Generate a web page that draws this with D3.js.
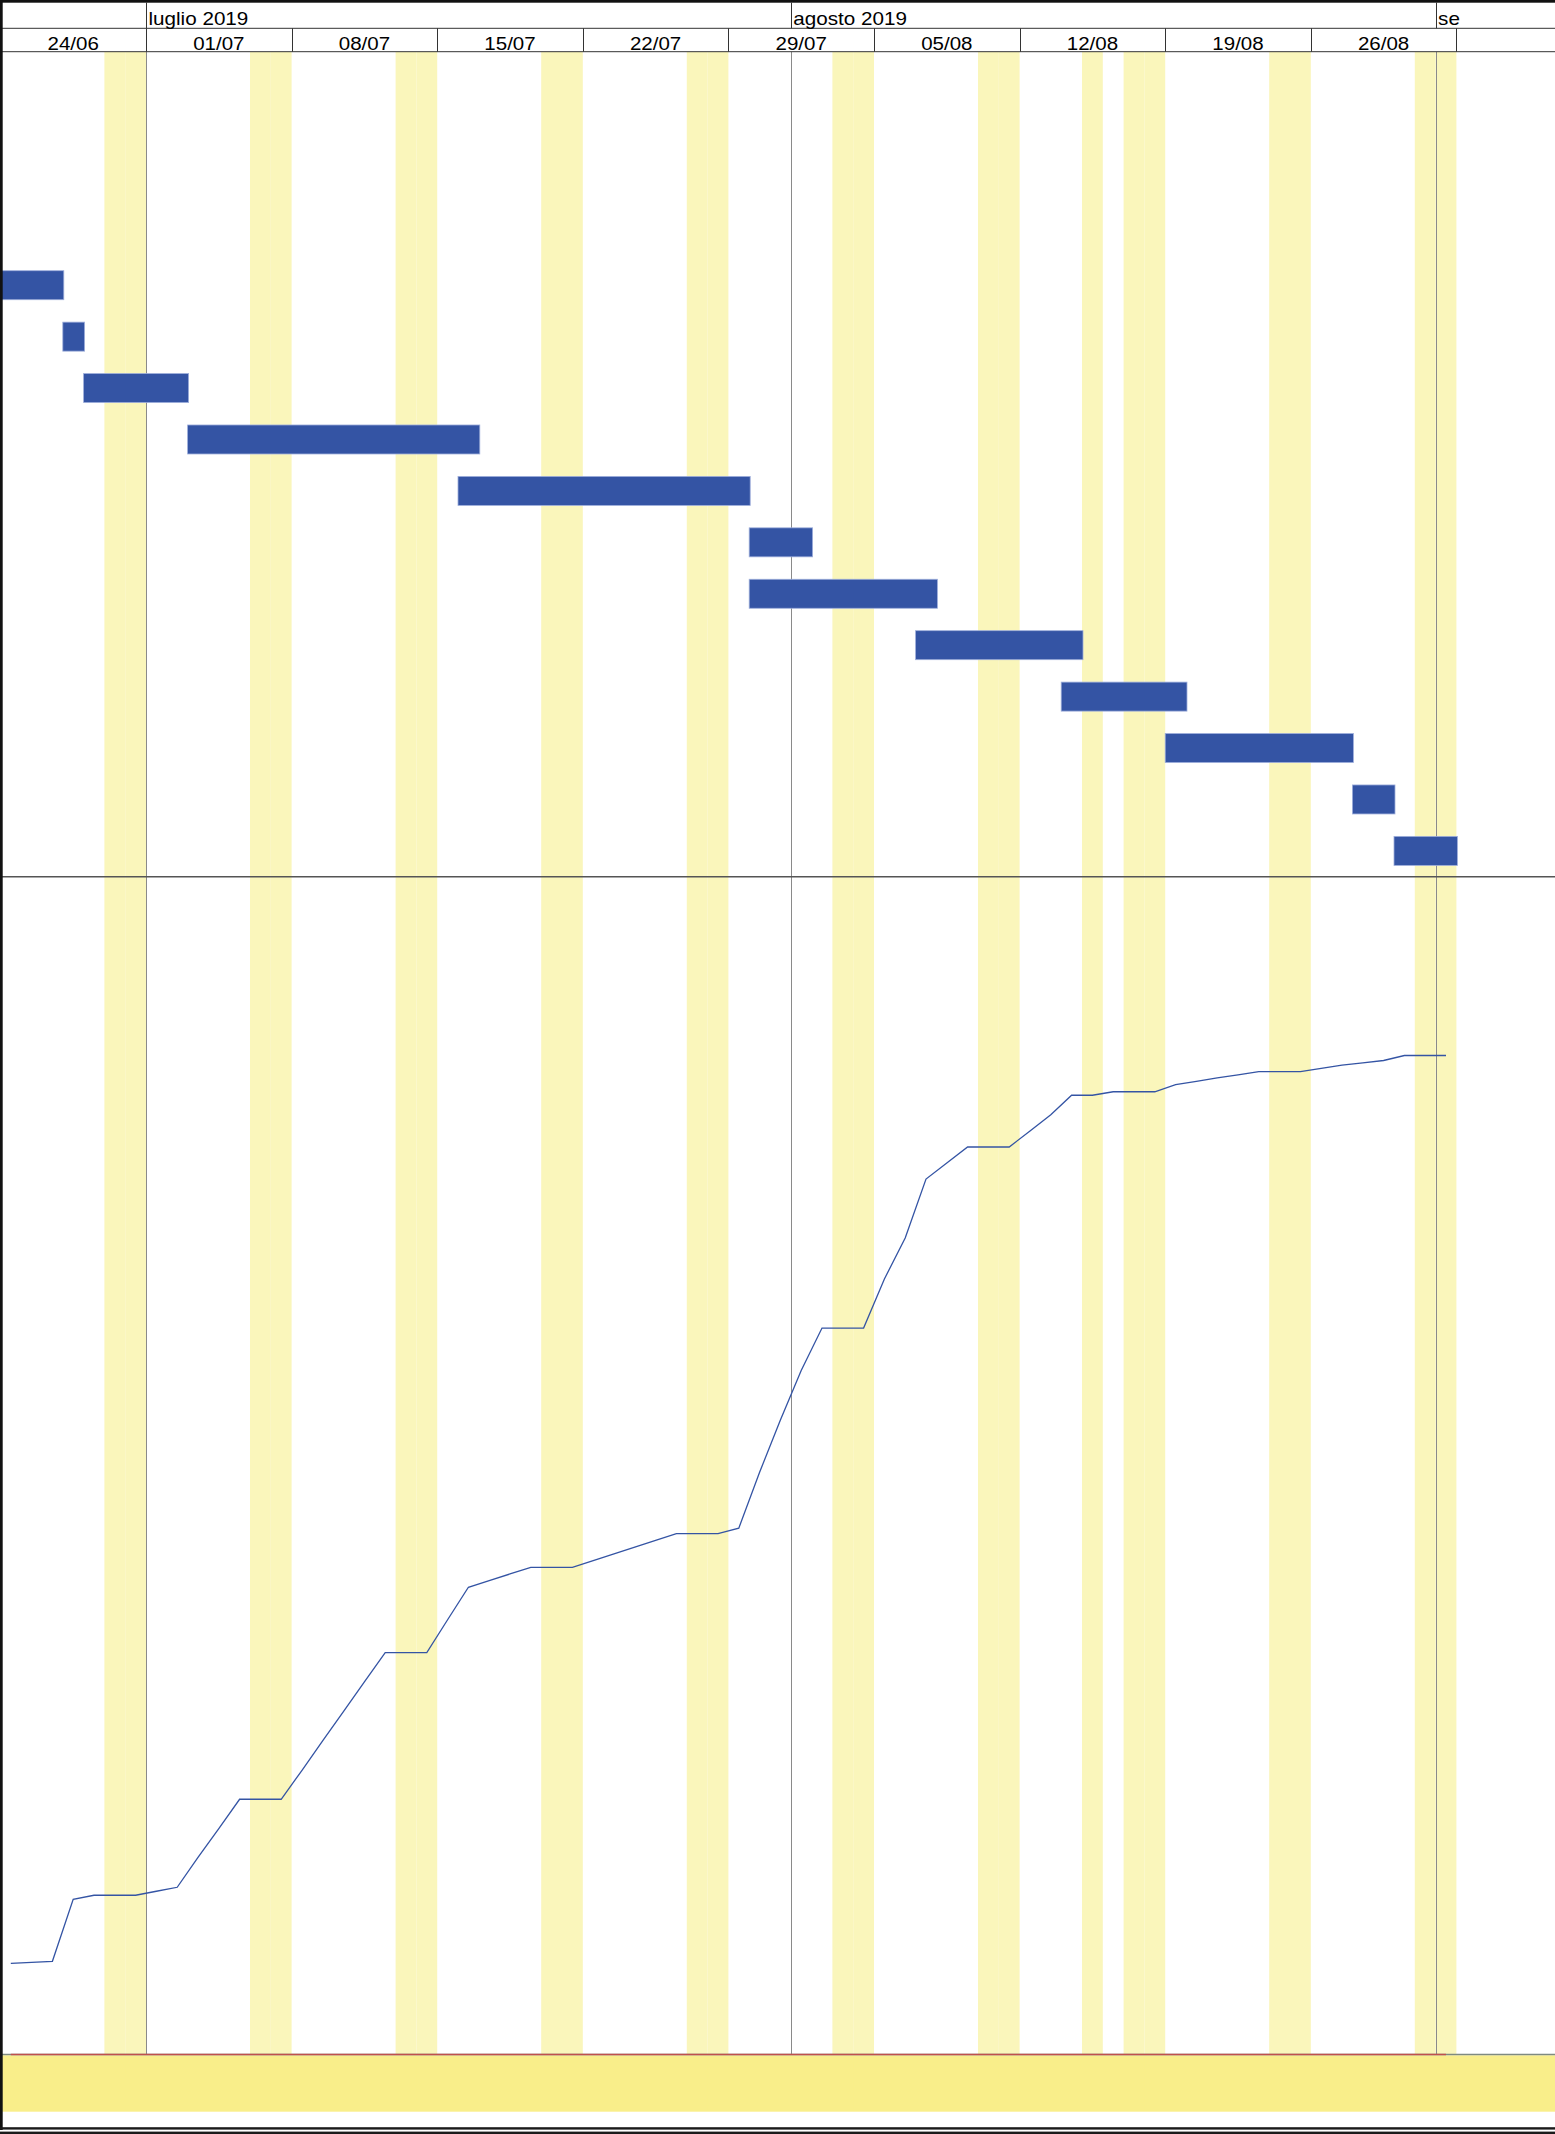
<!DOCTYPE html>
<html><head><meta charset="utf-8">
<script src="https://cdn.jsdelivr.net/npm/d3@7"></script>
<style>html,body{margin:0;padding:0;background:#fff;} svg{display:block;}</style>
</head><body>
<svg id="chart" width="1555" height="2134"></svg>
<script>
// ---------------- data ----------------
const weekStarts = ["2019-06-24","2019-07-01","2019-07-08","2019-07-15","2019-07-22","2019-07-29","2019-08-05","2019-08-12","2019-08-19","2019-08-26","2019-09-02"];
const weekLabels = ["24/06","01/07","08/07","15/07","22/07","29/07","05/08","12/08","19/08","26/08","02/09"];
const monthStarts = ["2019-07-01","2019-08-01","2019-09-01"];
const monthLabels = ["luglio 2019","agosto 2019","se"];
const holidays = ["2019-08-15"];
const rows = ["1","2","3","4","5","6","7","8","9","10","11","12","13","14","15","16"];
const taskRows = ["5","6","7","8","9","10","11","12","13","14","15","16"];
const taskStarts = ["2019-06-24","2019-06-27","2019-06-28","2019-07-03","2019-07-16","2019-07-30","2019-07-30","2019-08-07","2019-08-14","2019-08-19","2019-08-28","2019-08-30"];
const taskEnds   = ["2019-06-27","2019-06-28","2019-07-03","2019-07-17","2019-07-30","2019-08-02","2019-08-08","2019-08-15","2019-08-20","2019-08-28","2019-08-30","2019-09-02"];
const curveStart = "2019-06-24";
const curveValues = [9.13,9.23,9.33,15.54,15.94,15.94,15.94,16.34,16.74,19.72,
  22.61,25.55,25.55,25.55,28.45,31.41,34.34,37.29,40.22,40.22,
  40.22,43.52,46.77,47.44,48.10,48.77,48.77,48.77,49.44,50.11,
  50.79,51.46,52.13,52.13,52.13,52.69,58.28,63.51,68.46,72.72,
  72.72,72.72,77.63,81.73,87.63,89.24,90.84,90.84,90.84,92.44,
  94.06,96.02,96.02,96.37,96.37,96.37,97.09,97.40,97.75,98.05,
  98.39,98.39,98.39,98.72,99.04,99.27,99.50,100,100,100];

// ---------------- layout ----------------
const W = 1555, H = 2134;
const parse = d3.utcParse("%Y-%m-%d");
const t0 = parse("2019-06-24"), t1 = parse("2019-09-08");
const x = d3.scaleUtc().domain([t0, t1]).range([0.4, 0.4 + 76 * 20.8]);
const headTop = 2.7, monthBottom = 28.3, headBottom = 51.7;
const sepY = 876.7, zeroY = 2054.5;
const y = d3.scaleBand().domain(rows).range([53.8, 876.6]).paddingInner(0.436).paddingOuter(0.218);
const yv = d3.scaleLinear().domain([0, 100]).range([zeroY, 1055.5]);

const svg = d3.select("#chart");
const FONT = "'Liberation Sans', Arial, Helvetica, sans-serif";

// weekend / holiday bands
const holidaySet = new Set(holidays);
const fmt = d3.utcFormat("%Y-%m-%d");
const days = d3.utcDay.range(t0, t1).filter(d => d.getUTCDay() === 0 || d.getUTCDay() === 6 || holidaySet.has(fmt(d)));
svg.append("g").selectAll("rect").data(days).join("rect")
  .attr("x", d => x(d)).attr("width", d => x(d3.utcDay.offset(d, 1)) - x(d))
  .attr("y", headBottom).attr("height", zeroY - headBottom)
  .attr("fill", "#FAF6BB");

// month lines in body
svg.append("g").selectAll("line").data(monthStarts.map(parse)).join("line")
  .attr("x1", d => Math.round(x(d)) + 0.5).attr("x2", d => Math.round(x(d)) + 0.5)
  .attr("y1", headBottom).attr("y2", zeroY)
  .attr("stroke", "#8a8a8a").attr("stroke-width", 1);

// separator
svg.append("line").attr("x1", 0).attr("x2", W).attr("y1", sepY).attr("y2", sepY)
  .attr("stroke", "#555").attr("stroke-width", 1.5);

// gantt bars
const tasks = taskRows.map((r, i) => ({row: r, start: parse(taskStarts[i]), end: parse(taskEnds[i])}));
svg.append("g").selectAll("rect").data(tasks).join("rect")
  .attr("x", d => x(d.start)).attr("width", d => x(d.end) - x(d.start) + 1)
  .attr("y", d => y(d.row)).attr("height", y.bandwidth())
  .attr("fill", "#3454A4").attr("stroke", "#9eaedb").attr("stroke-width", 0.8);

// bottom yellow band
svg.append("rect").attr("x", 0).attr("y", zeroY + 0.8).attr("width", W).attr("height", 2111.7 - zeroY - 0.8)
  .attr("fill", "#F9EE8A");
// zero line gray (full) + red (curve extent)
svg.append("line").attr("x1", 0).attr("x2", W).attr("y1", zeroY).attr("y2", zeroY)
  .attr("stroke", "#7f8a80").attr("stroke-width", 1.5);
const curve = curveValues.map((v, i) => ({date: d3.utcHour.offset(d3.utcDay.offset(parse(curveStart), i), 12), v}));
svg.append("line")
  .attr("x1", x(curve[0].date)).attr("x2", x(curve[curve.length - 1].date))
  .attr("y1", zeroY).attr("y2", zeroY)
  .attr("stroke", "#C0504D").attr("stroke-width", 1.6);

// S-curve
svg.append("path").datum(curve)
  .attr("d", d3.line().x(d => x(d.date)).y(d => yv(d.v)))
  .attr("fill", "none").attr("stroke", "#3454A4").attr("stroke-width", 1.3);

// ---------------- header ----------------
const head = svg.append("g");
head.append("rect").attr("x", 0).attr("y", 0).attr("width", W).attr("height", headBottom).attr("fill", "#fff");
head.append("line").attr("x1", 0).attr("x2", W).attr("y1", monthBottom).attr("y2", monthBottom).attr("stroke", "#333").attr("stroke-width", 1);
head.append("line").attr("x1", 0).attr("x2", W).attr("y1", headBottom).attr("y2", headBottom).attr("stroke", "#333").attr("stroke-width", 1);
// month dividers + labels
const months = monthStarts.map((m, i) => ({d: parse(m), label: monthLabels[i]}));
head.selectAll(".mdiv").data(months).join("line").attr("class", "mdiv")
  .attr("x1", d => Math.round(x(d.d)) + 0.5).attr("x2", d => Math.round(x(d.d)) + 0.5)
  .attr("y1", headTop).attr("y2", monthBottom).attr("stroke", "#333").attr("stroke-width", 1);
head.selectAll(".mlab").data(months).join("text").attr("class", "mlab")
  .attr("transform", d => `translate(${x(d.d) + 2.5},25) scale(1.18,1)`)
  .attr("font-family", FONT).attr("font-size", 17.5).attr("fill", "#000")
  .text(d => d.label);
// week dividers + labels
const weeks = weekStarts.map((w, i) => ({d: parse(w), label: weekLabels[i]}));
head.selectAll(".wdiv").data(weeks).join("line").attr("class", "wdiv")
  .attr("x1", d => Math.round(x(d.d)) + 0.5).attr("x2", d => Math.round(x(d.d)) + 0.5)
  .attr("y1", monthBottom).attr("y2", headBottom).attr("stroke", "#333").attr("stroke-width", 1);
head.selectAll(".wlab").data(weeks.filter(d => x(d3.utcDay.offset(d.d, 7)) <= W)).join("text").attr("class", "wlab")
  .attr("transform", d => `translate(${(x(d.d) + x(d3.utcDay.offset(d.d, 7))) / 2},49.5) scale(1.08,1)`)
  .attr("text-anchor", "middle")
  .attr("font-family", FONT).attr("font-size", 19).attr("fill", "#000")
  .text(d => d.label);

// ---------------- frame ----------------
svg.append("rect").attr("x", 0).attr("y", 0).attr("width", W).attr("height", headTop).attr("fill", "#111");
svg.append("rect").attr("x", 0).attr("y", 0).attr("width", 2.7).attr("height", 2130).attr("fill", "#111");
svg.append("rect").attr("x", 0).attr("y", 2127.2).attr("width", W).attr("height", 2.4).attr("fill", "#1a1a1a");
svg.append("rect").attr("x", 0).attr("y", 2131.6).attr("width", W).attr("height", 2.4).attr("fill", "#1a1a1a");
</script>
</body></html>
